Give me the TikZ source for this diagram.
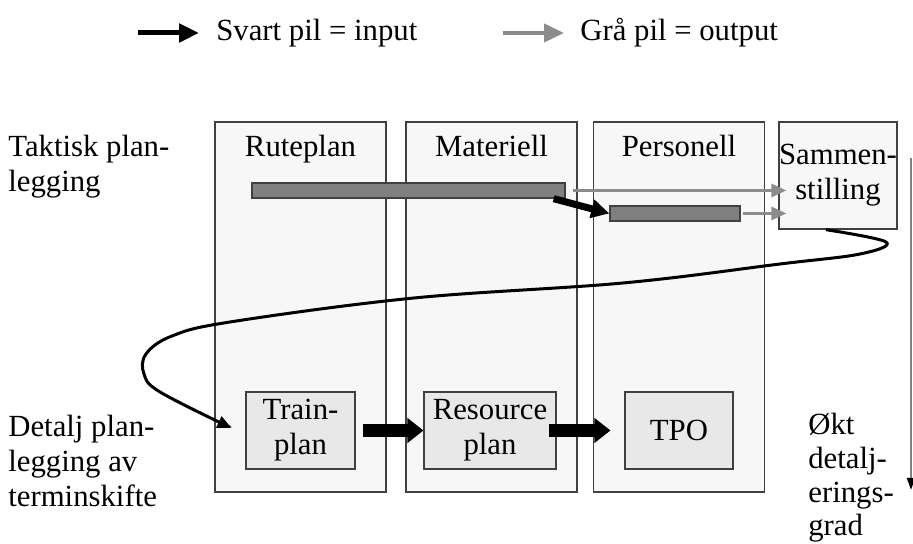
\documentclass[tikz,border=0pt]{standalone}
\usepackage{fontspec}
\setmainfont{Liberation Serif}
\usetikzlibrary{arrows.meta}
\usetikzlibrary{calc}
\definecolor{kolonne}{HTML}{F7F7F7}
\definecolor{indre}{HTML}{E8E8E8}
\definecolor{strek}{HTML}{404040}
\definecolor{graapil}{HTML}{8C8C8C}
\definecolor{stolpe}{HTML}{808080}

\begin{document}
\begin{tikzpicture}[x=0.2mm, y=0.2mm, font=\fontsize{17.5}{19.8}\selectfont]

    \useasboundingbox (0,0) rectangle (913,544);

    % legend
    \coordinate (la1) at (138,511);
    \coordinate (la2) at (199,511);
    \coordinate (lb1) at (503,511);
    \coordinate (lb2) at (564,511);
    \draw[-{Triangle[length=4mm, width=3.6mm]}, line width=1mm] (la1) -- (la2);
    \draw[-{Triangle[length=4mm, width=3.6mm]}, line width=0.8mm, color=graapil] (lb1) -- (lb2);
    \begin{scope}[every node/.style={anchor=west, inner sep=0}]
        \node (svart) at (216,511) {Svart pil = input};
        \node (graa) at (580,511) {Grå pil = output};
    \end{scope}

    % columns
    \begin{scope}[every node/.style={draw=strek, fill=kolonne, line width=0.8pt,
                                     minimum width=34.2mm, minimum height=74mm, inner sep=0}]
        \node (k1) at (300.5,237) {};
        \node (k2) at (491.5,237) {};
        \node (k3) at (679,237) {};
    \end{scope}
    \node[draw=strek, fill=kolonne, line width=0.8pt, align=center, inner sep=0,
          minimum width=23.2mm, minimum height=21.4mm] (s) at (838,368.5) {Sammen-\\stilling};

    % column titles
    \begin{scope}[every node/.style={anchor=base, inner sep=0}]
        \node (t1) at (300.5,387) {Ruteplan};
        \node (t2) at (491.5,387) {Materiell};
        \node (t3) at (679,387) {Personell};
    \end{scope}

    % side texts
    \begin{scope}[every node/.style={anchor=north west, align=left, inner sep=0}]
        \node (taktisk) at (8,409) {Taktisk plan-\\legging};
        \node (detalj) at (8,129) {Detalj plan-\\legging av\\terminskifte};
        \node[font=\fontsize{17.5}{19.2}\selectfont] (okt) at (808,131) {Økt\\detalj-\\erings-\\grad};
    \end{scope}

    % bars
    \begin{scope}[every node/.style={draw=strek, fill=stolpe, line width=0.8pt,
                                     minimum height=3mm, inner sep=0}]
        \node[minimum width=62.6mm] (b1) at (408.5,353.5) {};
        \node[minimum width=26mm] (b2) at (675,330.5) {};
    \end{scope}

    % output arrows
    \begin{scope}[every path/.style={-{Triangle[length=3mm, width=2.6mm]}, line width=0.6mm,
                                     color=graapil, shorten >=-1.6mm}]
        \draw ([xshift=1.4mm]b1.east) -- (s.west |- b1.east);
        \draw ([xshift=0.4mm]b2.east) -- (s.west |- b2.east);
    \end{scope}
    \draw[-{Triangle[length=3.6mm, width=3.6mm]}, line width=1.4mm]
        ([xshift=-2.4mm]b1.south east) -- (b2.west);

    % detailed plans
    \begin{scope}[every node/.style={draw=strek, fill=indre, line width=0.6pt, align=center,
                                     minimum height=15.4mm, inner sep=0}]
        \node[minimum width=21.8mm] (i1) at (300.5,113.5) {Train-\\plan};
        \node[minimum width=26.4mm] (i2) at (490,113.5) {Resource\\plan};
        \node[minimum width=21.6mm] (i3) at (679,113.5) {TPO};
    \end{scope}
    \begin{scope}[every path/.style={-{Triangle[length=3.2mm, width=4.8mm]}, line width=2.6mm}]
        \draw ([xshift=1.4mm]i1.east) -- (i2.west);
        \draw ([xshift=-1.6mm]i2.east) -- ([xshift=-2.8mm]i3.west);
    \end{scope}

    % from tactical to detailed
    \coordinate (kstart) at ([xshift=-2.4mm]s.south);
    \coordinate (kslutt) at ([xshift=-2.8mm, yshift=0.5mm]i1.west);
    \draw[-{Triangle[length=2.8mm, width=2.4mm]}, line width=0.6mm]
        plot[smooth, tension=0.6] coordinates {(kstart) (886,302) (860,290) (780,280) (623,261)
                                               (414,246) (230,222) (172,208) (146,190) (144,170)
                                               (160,152) (kslutt)};

    % increasing detail
    \coordinate (o1) at (911,386);
    \coordinate (o2) at (911,54);
    \draw[-{Triangle[length=2.4mm, width=1.6mm, color=black]}, line width=0.4mm, color=stolpe] (o1) -- (o2);

\end{tikzpicture}
\end{document}
